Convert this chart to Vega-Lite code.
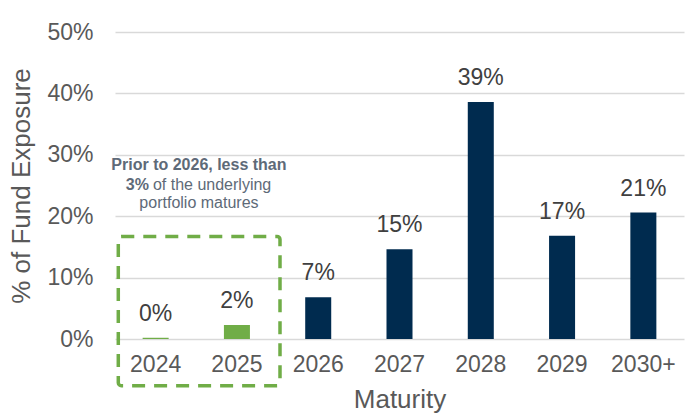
{
  "$schema": "https://vega.github.io/schema/vega-lite/v6.json",
  "width": 569,
  "height": 307,
  "autosize": {"type": "none"},
  "padding": {"left": 115, "top": 32, "right": 9, "bottom": 77},
  "background": "white",
  "config": {
    "view": {"stroke": null},
    "font": "Liberation Sans",
    "axis": {
      "labelFont": "Liberation Sans",
      "titleFont": "Liberation Sans",
      "labelColor": "#595959",
      "titleColor": "#595959",
      "labelFontSize": 23,
      "titleFontSize": 26,
      "titleFontWeight": "normal",
      "ticks": false,
      "domain": false,
      "gridColor": "#D9D9D9",
      "gridWidth": 1.5
    }
  },
  "layer": [
    {
      "data": {"values": [
        {"maturity": "2024", "share": 0.002, "group": "Prior to 2026"},
        {"maturity": "2025", "share": 0.023, "group": "Prior to 2026"},
        {"maturity": "2026", "share": 0.068, "group": "2026 and later"},
        {"maturity": "2027", "share": 0.146, "group": "2026 and later"},
        {"maturity": "2028", "share": 0.386, "group": "2026 and later"},
        {"maturity": "2029", "share": 0.168, "group": "2026 and later"},
        {"maturity": "2030+", "share": 0.206, "group": "2026 and later"}
      ]},
      "encoding": {
        "x": {
          "field": "maturity", "type": "nominal",
          "scale": {"domain": ["2024", "2025", "2026", "2027", "2028", "2029", "2030+"], "paddingInner": 0.68, "paddingOuter": 0.34},
          "axis": {"labelAngle": 0, "labelPadding": 14, "title": "Maturity", "titlePadding": 10, "grid": false}
        },
        "y": {
          "field": "share", "type": "quantitative",
          "scale": {"domain": [0, 0.5], "nice": false},
          "axis": {"values": [0, 0.1, 0.2, 0.3, 0.4, 0.5], "format": ".0%", "labelPadding": 22, "title": "% of Fund Exposure", "titlePadding": 12, "grid": true}
        }
      },
      "layer": [
        {
          "mark": {"type": "bar"},
          "encoding": {
            "color": {"field": "group", "type": "nominal", "scale": {"domain": ["Prior to 2026", "2026 and later"], "range": ["#70AD47", "#002B4F"]}, "legend": null}
          }
        },
        {
          "mark": {"type": "text", "baseline": "alphabetic", "dy": -17, "fontSize": 23, "color": "#404040", "font": "Liberation Sans"},
          "encoding": {"text": {"field": "share", "type": "quantitative", "format": ".0%"}}
        }
      ]
    },
    {
      "data": {"values": [{"from": "2024", "to": "2025", "low": -0.076, "high": 0.167}]},
      "mark": {"type": "rect", "fill": null, "filled": false, "stroke": "#70AD47", "strokeWidth": 3.5, "strokeDash": [13, 9], "cornerRadius": 3},
      "encoding": {
        "x": {"field": "from", "type": "nominal", "bandPosition": -0.936},
        "x2": {"field": "to", "bandPosition": 2.156},
        "y": {"field": "low", "type": "quantitative"},
        "y2": {"field": "high"}
      }
    },
    {
      "data": {"values": [{"at": "2025", "pos": 0.283, "note": "Prior to 2026, less than"}]},
      "mark": {"type": "text", "align": "center", "baseline": "middle", "fontSize": 16, "fontWeight": "bold", "color": "#5E6A78", "font": "Liberation Sans"},
      "encoding": {
        "x": {"field": "at", "type": "nominal", "bandPosition": -0.96},
        "y": {"field": "pos", "type": "quantitative"},
        "text": {"field": "note"}
      }
    },
    {
      "data": {"values": [{"at": "2025", "pos": 0.251, "note": "3%"}]},
      "mark": {"type": "text", "align": "right", "baseline": "middle", "dx": -50, "fontSize": 16, "fontWeight": "bold", "color": "#5E6A78", "font": "Liberation Sans"},
      "encoding": {
        "x": {"field": "at", "type": "nominal", "bandPosition": -0.96},
        "y": {"field": "pos", "type": "quantitative"},
        "text": {"field": "note"}
      }
    },
    {
      "data": {"values": [{"at": "2025", "pos": 0.251, "note": "of the underlying"}]},
      "mark": {"type": "text", "align": "left", "baseline": "middle", "dx": -46, "fontSize": 16, "color": "#5E6A78", "font": "Liberation Sans"},
      "encoding": {
        "x": {"field": "at", "type": "nominal", "bandPosition": -0.96},
        "y": {"field": "pos", "type": "quantitative"},
        "text": {"field": "note"}
      }
    },
    {
      "data": {"values": [{"at": "2025", "pos": 0.222, "note": "portfolio matures"}]},
      "mark": {"type": "text", "align": "center", "baseline": "middle", "fontSize": 16, "color": "#5E6A78", "font": "Liberation Sans"},
      "encoding": {
        "x": {"field": "at", "type": "nominal", "bandPosition": -0.96},
        "y": {"field": "pos", "type": "quantitative"},
        "text": {"field": "note"}
      }
    }
  ]
}
